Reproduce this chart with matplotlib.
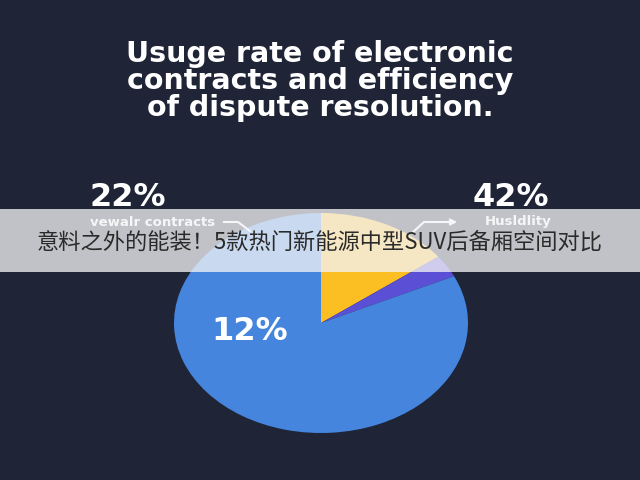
import matplotlib
matplotlib.use('Agg')
import matplotlib.pyplot as plt
from matplotlib.patches import Rectangle, FancyArrowPatch

# ── data ──────────────────────────────────────────────────────
slice_values = [14.7, 3.3, 82.0]
slice_colors = ['#FBBF24', '#5B4FD6', '#4585DD']
big_labels = ['22%', '42%', '12%']
small_labels = ['vewalr contracts', 'Husldlity']
title_lines = ['Usuge rate of electronic',
               'contracts and efficiency',
               'of dispute resolution.']
banner_text = '意料之外的能装！5款热门新能源中型SUV后备厢空间对比'

BG = '#1F2537'
W, H = 640, 480
FONT = 'DejaVu Sans'

fig = plt.figure(figsize=(6.4, 4.8), dpi=100, facecolor=BG)

# ── pie (drawn as an ellipse) ─────────────────────────────────
cx, cy, rx, ry = 321, 323, 147, 110
ax = fig.add_axes([(cx - rx) / W, (H - cy - ry) / H, 2 * rx / W, 2 * ry / H])
ax.pie(slice_values, colors=slice_colors, startangle=90, counterclock=False,
       radius=1, wedgeprops=dict(linewidth=0))
ax.set_aspect('auto')
ax.set_xlim(-1, 1)
ax.set_ylim(-1, 1)
ax.axis('off')

# ── title ─────────────────────────────────────────────────────
for i, line in enumerate(title_lines):
    fig.text(0.5, 1 - (54 + 27 * i) / H, line, ha='center', va='center',
             color='white', fontsize=20.5, fontweight='bold', family=FONT)

# ── labels ────────────────────────────────────────────────────
def fx(x):
    return x / W

def fy(y):
    return 1 - y / H

fig.text(fx(128), fy(198), big_labels[0], ha='center', va='center', color='white',
         fontsize=23, fontweight='bold', family=FONT)
fig.text(fx(511), fy(198), big_labels[1], ha='center', va='center', color='white',
         fontsize=23, fontweight='bold', family=FONT)
fig.text(fx(250), fy(332), big_labels[2], ha='center', va='center', color='white',
         fontsize=23, fontweight='bold', family=FONT)
fig.text(fx(153), fy(222), small_labels[0], ha='center', va='center', color='white',
         fontsize=9.5, fontweight='bold', family=FONT)
fig.text(fx(518), fy(222), small_labels[1], ha='center', va='center', color='white',
         fontsize=9.5, fontweight='bold', family=FONT)

# leader lines
fig.add_artist(plt.Line2D([fx(224), fx(238), fx(250)], [fy(222), fy(222), fy(231)],
                          color='white', lw=1.5))
fig.add_artist(plt.Line2D([fx(412), fx(424), fx(452)], [fy(233), fy(222), fy(222)],
                          color='white', lw=1.5))
fig.add_artist(FancyArrowPatch((fx(448), fy(222)), (fx(460), fy(222)),
                               transform=fig.transFigure, arrowstyle='-|>',
                               color='white', lw=1.5, mutation_scale=9))

# ── overlay banner ────────────────────────────────────────────
fig.add_artist(Rectangle((0, fy(272)), 1, (272 - 209) / H, transform=fig.transFigure,
                         facecolor='#F4F4F6', alpha=0.76, edgecolor='none', zorder=10))
fig.text(0.5, fy(243), banner_text, ha='center', va='center', color='#2A2A2A',
         fontsize=16, family=['Noto Sans CJK SC', 'DejaVu Sans'], zorder=11)

fig.savefig('out.png', dpi=100, facecolor=BG)
